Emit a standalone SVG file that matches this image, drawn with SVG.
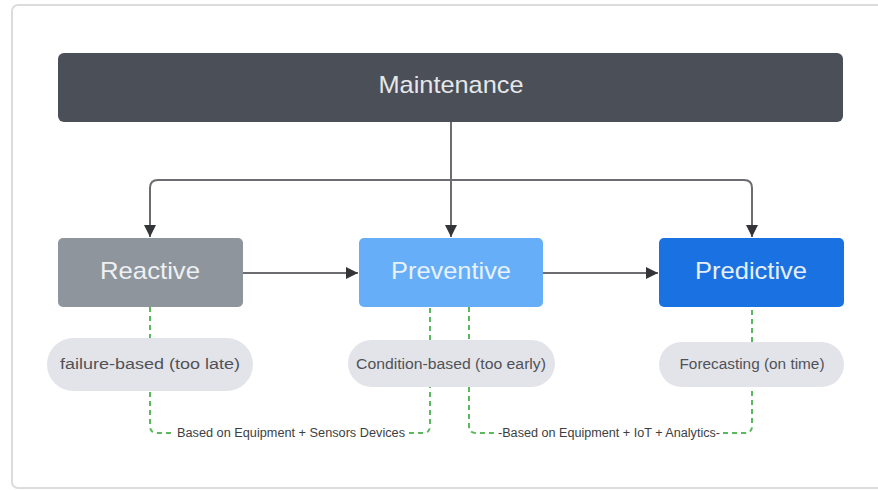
<svg xmlns="http://www.w3.org/2000/svg" width="878" height="490" viewBox="0 0 878 490">
  <defs>
    <style>
      .frame { fill: #ffffff; stroke: #dcdcdc; stroke-width: 2; }
      .box-text { font-family: "Liberation Sans", Arial, sans-serif; font-size: 24px; text-anchor: middle; dominant-baseline: central; }
      .pill { fill: #e3e4ea; }
      .pill-text { font-family: "Liberation Sans", Arial, sans-serif; font-size: 15.5px; fill: #505257; text-anchor: middle; dominant-baseline: central; }
      .flow { fill: none; stroke: #6b6d70; stroke-width: 2; }
      .link { fill: none; stroke: #5cb85c; stroke-width: 2; stroke-dasharray: 5 4; }
      .link-text { font-family: "Liberation Sans", Arial, sans-serif; font-size: 12px; fill: #3c3e42; text-anchor: middle; dominant-baseline: central; }
    </style>
    <marker id="arrow" viewBox="0 0 10 10" refX="10" refY="5" markerWidth="6" markerHeight="6" orient="auto" markerUnits="strokeWidth">
      <path d="M0,0 L10,5 L0,10 z" fill="#333538"/>
    </marker>
  </defs>

  <rect width="878" height="490" fill="#ffffff"/>
  <rect class="frame" x="12" y="5" width="880" height="483" rx="6"/>

  <!-- connectors -->
  <g id="connectors">
    <path class="flow" d="M451,122 V180" />
    <path class="flow" d="M451,180 H158 Q150,180 150,188 V237" marker-end="url(#arrow)"/>
    <path class="flow" d="M451,180 V237" marker-end="url(#arrow)"/>
    <path class="flow" d="M451,180 H744 Q752,180 752,188 V237" marker-end="url(#arrow)"/>
    <path class="flow" d="M243,273 H358" marker-end="url(#arrow)"/>
    <path class="flow" d="M542,273 H658" marker-end="url(#arrow)"/>

    <path class="link" d="M150,307 V338"/>
    <path class="link" d="M150,392 V426 Q150,433 157,433 H173"/>
    <path class="link" d="M409,433 H423 Q430,433 430,426 V387"/>
    <path class="link" d="M430,340 V307"/>
    <path class="link" d="M469,307 V340"/>
    <path class="link" d="M469,387 V426 Q469,433 476,433 H496"/>
    <path class="link" d="M723,433 H745 Q752,433 752,426 V387"/>
    <path class="link" d="M752,342 V307"/>
    <text class="link-text" x="291" y="433" textLength="228" lengthAdjust="spacingAndGlyphs">Based on Equipment + Sensors Devices</text>
    <text class="link-text" x="609" y="433" textLength="222" lengthAdjust="spacingAndGlyphs">-Based on Equipment + IoT + Analytics-</text>
  </g>

  <g id="maintenance">
    <rect x="58" y="53" width="785" height="69" rx="6" fill="#4b4f58"/>
    <text class="box-text" x="451" y="84" fill="#e6e7ea" textLength="145" lengthAdjust="spacingAndGlyphs">Maintenance</text>
  </g>

  <g id="reactive">
    <rect x="58" y="238" width="185" height="69" rx="5" fill="#8f959d"/>
    <text class="box-text" x="150" y="270" fill="#eef0f2" textLength="100" lengthAdjust="spacingAndGlyphs">Reactive</text>
  </g>

  <g id="preventive">
    <rect x="359" y="238" width="184" height="69" rx="5" fill="#66aef7"/>
    <text class="box-text" x="451" y="270" fill="#e8f2fd" textLength="120" lengthAdjust="spacingAndGlyphs">Preventive</text>
  </g>

  <g id="predictive">
    <rect x="659" y="238" width="185" height="69" rx="5" fill="#1a72e2"/>
    <text class="box-text" x="751" y="270" fill="#e6effc" textLength="112" lengthAdjust="spacingAndGlyphs">Predictive</text>
  </g>

  <g id="failure-based">
    <rect class="pill" x="47" y="338" width="206" height="53" rx="26.5"/>
    <text class="pill-text" x="150" y="363" textLength="180" lengthAdjust="spacingAndGlyphs">failure-based (too late)</text>
  </g>

  <g id="condition-based">
    <rect class="pill" x="348" y="340" width="207" height="47" rx="23.5"/>
    <text class="pill-text" x="451" y="363" textLength="190" lengthAdjust="spacingAndGlyphs">Condition-based (too early)</text>
  </g>

  <g id="forecasting">
    <rect class="pill" x="659" y="342" width="185" height="45" rx="22.5"/>
    <text class="pill-text" x="752" y="363" textLength="145" lengthAdjust="spacingAndGlyphs">Forecasting (on time)</text>
  </g>
</svg>
